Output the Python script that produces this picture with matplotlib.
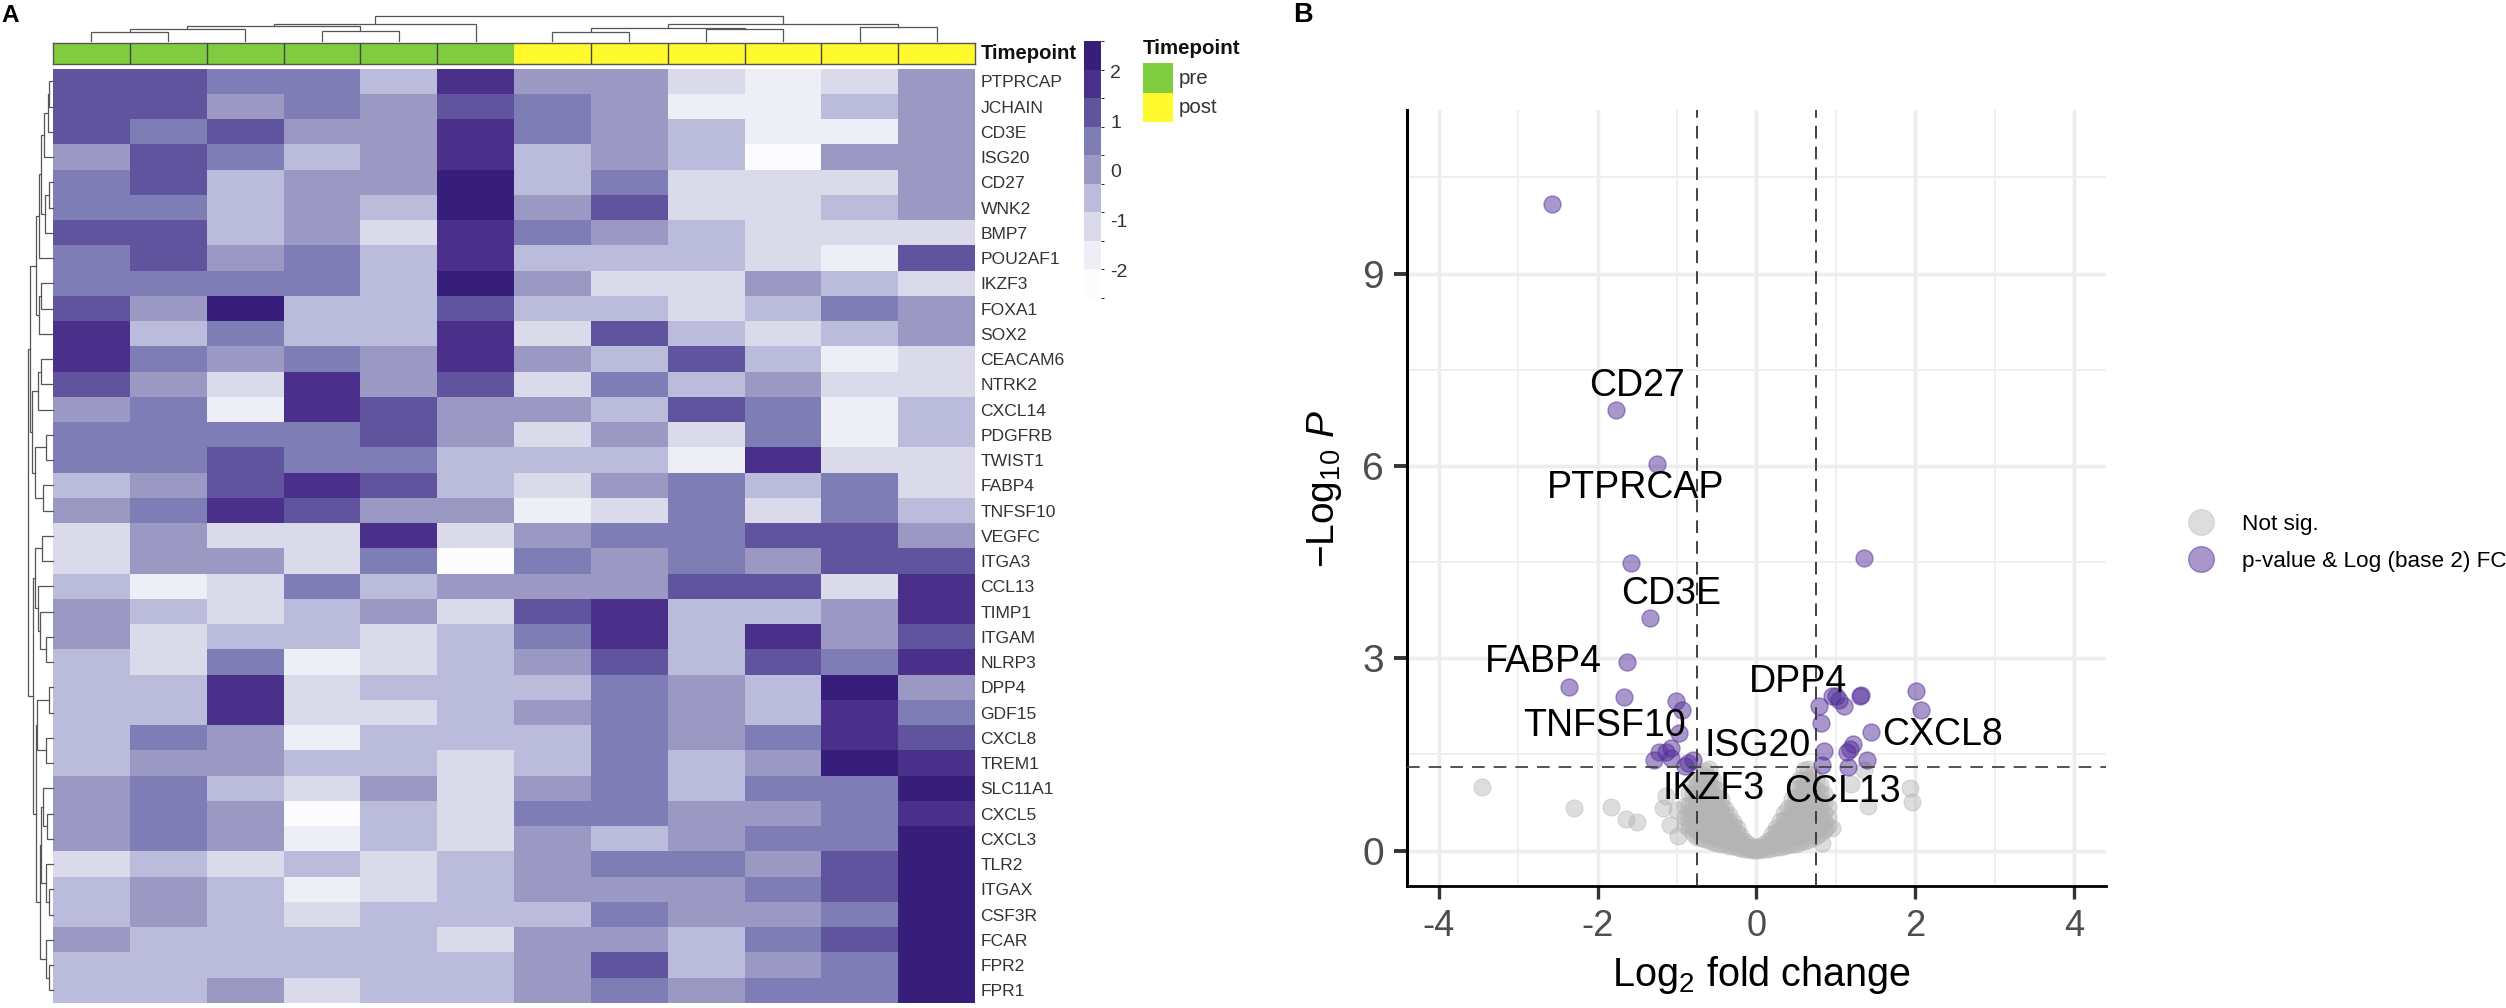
import numpy as np
import matplotlib
matplotlib.use("Agg")
import matplotlib.pyplot as plt
from matplotlib.colors import ListedColormap, BoundaryNorm
from matplotlib.colorbar import ColorbarBase
from matplotlib.lines import Line2D
from matplotlib.patches import Rectangle

plt.rcParams['font.family'] = ['Liberation Sans', 'DejaVu Sans']
plt.rcParams['mathtext.fontset'] = 'custom'
plt.rcParams['mathtext.rm'] = 'Liberation Sans'
plt.rcParams['mathtext.it'] = 'Liberation Sans:italic'
plt.rcParams['axes.unicode_minus'] = False

W, H = 2506, 1008

genes = ['PTPRCAP', 'JCHAIN', 'CD3E', 'ISG20', 'CD27', 'WNK2', 'BMP7', 'POU2AF1', 'IKZF3', 'FOXA1',
         'SOX2', 'CEACAM6', 'NTRK2', 'CXCL14', 'PDGFRB', 'TWIST1', 'FABP4', 'TNFSF10', 'VEGFC', 'ITGA3',
         'CCL13', 'TIMP1', 'ITGAM', 'NLRP3', 'DPP4', 'GDF15', 'CXCL8', 'TREM1', 'SLC11A1', 'CXCL5',
         'CXCL3', 'TLR2', 'ITGAX', 'CSF3R', 'FCAR', 'FPR2', 'FPR1']
timepoint = [0] * 6 + [1] * 6

# colour bin of each cell (0 lightest .. 8 darkest)
heat_bins = [
    [6, 6, 5, 5, 3, 7, 4, 4, 2, 1, 2, 4],
    [6, 6, 4, 5, 4, 6, 5, 4, 1, 1, 3, 4],
    [6, 5, 6, 4, 4, 7, 5, 4, 3, 1, 1, 4],
    [4, 6, 5, 3, 4, 7, 3, 4, 3, 0, 4, 4],
    [5, 6, 3, 4, 4, 8, 3, 5, 2, 2, 2, 4],
    [5, 5, 3, 4, 3, 8, 4, 6, 2, 2, 3, 4],
    [6, 6, 3, 4, 2, 7, 5, 4, 3, 2, 2, 2],
    [5, 6, 4, 5, 3, 7, 3, 3, 3, 2, 1, 6],
    [5, 5, 5, 5, 3, 8, 4, 2, 2, 4, 3, 2],
    [6, 4, 8, 3, 3, 6, 3, 3, 2, 3, 5, 4],
    [7, 3, 5, 3, 3, 7, 2, 6, 3, 2, 3, 4],
    [7, 5, 4, 5, 4, 7, 4, 3, 6, 3, 1, 2],
    [6, 4, 2, 7, 4, 6, 2, 5, 3, 4, 2, 2],
    [4, 5, 1, 7, 6, 4, 4, 3, 6, 5, 1, 3],
    [5, 5, 5, 5, 6, 4, 2, 4, 2, 5, 1, 3],
    [5, 5, 6, 5, 5, 3, 3, 3, 1, 7, 2, 2],
    [3, 4, 6, 7, 6, 3, 2, 4, 5, 3, 5, 2],
    [4, 5, 7, 6, 4, 4, 1, 2, 5, 2, 5, 3],
    [2, 4, 2, 2, 7, 2, 4, 5, 5, 6, 6, 4],
    [2, 4, 4, 2, 5, 0, 5, 4, 5, 4, 6, 6],
    [3, 1, 2, 5, 3, 4, 4, 4, 6, 6, 2, 7],
    [4, 3, 2, 3, 4, 2, 6, 7, 3, 3, 4, 7],
    [4, 2, 3, 3, 2, 3, 5, 7, 3, 7, 4, 6],
    [3, 2, 5, 1, 2, 3, 4, 6, 3, 6, 5, 7],
    [3, 3, 7, 2, 3, 3, 3, 5, 4, 3, 8, 4],
    [3, 3, 7, 2, 2, 3, 4, 5, 4, 3, 7, 5],
    [3, 5, 4, 1, 3, 3, 3, 5, 4, 5, 7, 6],
    [3, 4, 4, 3, 3, 2, 3, 5, 3, 4, 8, 7],
    [4, 5, 3, 2, 4, 2, 4, 5, 3, 5, 5, 8],
    [4, 5, 4, 0, 3, 2, 5, 5, 4, 4, 5, 7],
    [4, 5, 4, 1, 3, 2, 4, 3, 4, 5, 5, 8],
    [2, 3, 2, 3, 2, 3, 4, 5, 5, 4, 6, 8],
    [3, 4, 3, 1, 2, 3, 4, 4, 4, 5, 6, 8],
    [3, 4, 3, 2, 3, 3, 3, 5, 4, 4, 5, 8],
    [4, 3, 3, 3, 3, 2, 4, 4, 3, 5, 6, 8],
    [3, 3, 3, 3, 3, 3, 4, 6, 3, 4, 5, 8],
    [3, 3, 4, 2, 3, 3, 4, 5, 4, 5, 5, 8],
]
bin_colors = ['#FCFBFD', '#EEEEF6', '#DADAEB', '#BBBBDB', '#9B99C3', '#7F7DB6', '#61549F', '#4A2F8B', '#371E7A']
bin_edges = np.linspace(-2.55, 2.61, 10)
cbar_ticks = [-2, -1, 0, 1, 2]

# dendrograms as nested (height, left, right), ints are leaves
col_tree = (25.3,
            (16.7, (15, (12, (8.7, 0, 1), 2), (10.4, 3, 4)), 5),
            (17, (12.7, (9.3, 6, 7), (11.7, 8, 9)), (13.7, 10, 11)))
g1 = (17, (14, (12, (9.5, (5, (4, 0, 1), 2), 3), (8, (4, 4, 5), 6)), 7), (14, (12, 8, 9), 10))
g2a = (21, (14.7, (12, 11, 12), 13), (18, (7, 14, 15), (9.6, 16, 17)))
g2b = (18, (11, 18, 19), (15, 20, (13, 21, (7, 22, 23))))
g3 = (17, (16, (4.5, 24, 25), (7, 26, 27)),
      (13.5, (12, (9.6, 28, (6, 29, 30)), (7, 31, (4.5, 32, 33))), (7, 34, (4.5, 35, 36))))
row_tree = (25, (23.5, g1, g2a), (20, g2b, g3))

# volcano points
sig_x = [-2.58, -1.77, -1.25, -1.58, 1.36, -1.34, -1.63, -2.36, -1.67, -1.01, -0.94, 2.01, 2.07, 1.31, 1.32,
         1.00, 0.95, 1.04, 1.10, 0.79, 0.82, 1.44, -0.97, 1.22, 1.14, 1.18, 0.855, 1.39, 1.15, 0.83,
         -1.07, -1.14, -1.23, -1.07, -1.29, -0.80, -0.86, -0.90]
sig_y = [10.09, 6.87, 6.03, 4.49, 4.57, 3.63, 2.94, 2.55, 2.40, 2.33, 2.20, 2.49, 2.20, 2.41, 2.42,
         2.41, 2.41, 2.35, 2.26, 2.26, 1.99, 1.855, 1.83, 1.66, 1.54, 1.59, 1.55, 1.42, 1.31, 1.34,
         1.60, 1.54, 1.54, 1.44, 1.41, 1.41, 1.37, 1.32]
ns_x = [-3.46, -2.30, -1.83, -1.64, -1.50, -1.17, -1.14, -1.00, 1.94, 1.96, 1.41, 1.19, 1.35, 0.95, 0.87, 0.83, -0.99, -1.09]
ns_y = [1.00, 0.66, 0.68, 0.49, 0.44, 0.66, 0.85, 0.63, 0.98, 0.76, 0.69, 1.04, 1.26, 0.35, 0.35, 0.12, 0.23, 0.40]
# the dense grey V, one column of genes per entry
cloud_x = [-0.90, -0.85, -0.80, -0.75, -0.70, -0.65, -0.60, -0.55, -0.50, -0.45, -0.40, -0.35, -0.30, -0.25, -0.20, -0.15, -0.10, -0.05,
           0.00, 0.05, 0.10, 0.15, 0.20, 0.25, 0.30, 0.35, 0.40, 0.45, 0.50, 0.55, 0.60, 0.65, 0.70, 0.75, 0.80, 0.85, 0.90]
cloud_y = [[0.40, 0.52, 0.70],
           [0.35, 0.45, 0.58, 0.72, 0.90],
           [0.28, 0.38, 0.50, 0.62, 0.75, 0.88, 1.00],
           [0.22, 0.32, 0.44, 0.55, 0.66, 0.78, 0.90, 1.02, 1.10],
           [0.20, 0.30, 0.40, 0.52, 0.63, 0.75, 0.86, 0.97, 1.08, 1.20],
           [0.18, 0.28, 0.38, 0.49, 0.60, 0.72, 0.83, 0.94, 1.05, 1.16, 1.25],
           [0.16, 0.25, 0.36, 0.47, 0.58, 0.68, 0.80, 0.91, 1.03, 1.14, 1.28],
           [0.14, 0.24, 0.33, 0.44, 0.55, 0.65, 0.76, 0.87, 0.98, 1.10],
           [0.12, 0.22, 0.31, 0.42, 0.52, 0.62, 0.73, 0.84, 0.95],
           [0.10, 0.20, 0.29, 0.39, 0.49, 0.59, 0.70, 0.80],
           [0.10, 0.18, 0.27, 0.36, 0.46, 0.55, 0.65],
           [0.08, 0.16, 0.25, 0.33, 0.43, 0.55],
           [0.07, 0.14, 0.22, 0.30, 0.38, 0.45],
           [0.05, 0.12, 0.19, 0.27, 0.35],
           [0.04, 0.10, 0.16, 0.25],
           [0.03, 0.08, 0.15],
           [0.02, 0.05, 0.10],
           [0.01, 0.03, 0.06],
           [0.01, 0.03, 0.05],
           [0.01, 0.04, 0.06],
           [0.02, 0.06, 0.10],
           [0.03, 0.09, 0.15],
           [0.04, 0.11, 0.18, 0.26],
           [0.05, 0.13, 0.21, 0.29, 0.36],
           [0.06, 0.15, 0.24, 0.33, 0.46],
           [0.07, 0.16, 0.27, 0.38, 0.48, 0.58],
           [0.09, 0.19, 0.29, 0.40, 0.52, 0.66],
           [0.10, 0.21, 0.32, 0.44, 0.56, 0.68, 0.80],
           [0.11, 0.23, 0.35, 0.47, 0.59, 0.72, 0.84, 0.96],
           [0.13, 0.25, 0.37, 0.50, 0.63, 0.76, 0.88, 1.00, 1.12],
           [0.15, 0.26, 0.38, 0.50, 0.62, 0.74, 0.86, 0.98, 1.10, 1.26],
           [0.17, 0.28, 0.40, 0.52, 0.64, 0.76, 0.88, 1.00, 1.12, 1.27],
           [0.20, 0.31, 0.43, 0.55, 0.67, 0.79, 0.91, 1.03, 1.18],
           [0.23, 0.34, 0.46, 0.58, 0.70, 0.82, 0.94, 1.08],
           [0.27, 0.39, 0.51, 0.64, 0.77, 0.90, 1.02],
           [0.33, 0.46, 0.60, 0.74, 0.88],
           [0.38, 0.52, 0.68]]
gene_labels = ['CD27', 'PTPRCAP', 'CD3E', 'FABP4', 'DPP4', 'TNFSF10', 'ISG20', 'CXCL8', 'IKZF3', 'CCL13']
label_x = [-1.497, -1.515, -1.075, -2.68, 0.52, -1.907, 0.02, 2.34, -0.534, 1.09]
label_y = [7.24, 5.65, 4.00, 2.94, 2.63, 1.95, 1.64, 1.81, 0.96, 0.92]
x_major = [-4, -2, 0, 2, 4]
x_minor = [-3, -1, 1, 3]
y_major = [0, 3, 6, 9]
y_minor = [1.5, 4.5, 7.5, 10.5]
cut_fc = 0.75
cut_p = 1.31


def px_axes(left, top, right, bottom):
    return fig.add_axes([left / W, 1 - bottom / H, (right - left) / W, (bottom - top) / H])


def draw_tree(ax, node, horizontal=False):
    # returns leaf-axis position and height of the node
    if not isinstance(node, tuple):
        return node + 0.5, 0
    h, a, b = node
    pa, ha = draw_tree(ax, a, horizontal)
    pb, hb = draw_tree(ax, b, horizontal)
    xs, ys = [pa, pa, pb, pb], [ha, h, h, hb]
    if horizontal:
        xs, ys = ys, xs
    ax.plot(xs, ys, color='#555555', lw=0.9, solid_joinstyle='miter', clip_on=False)
    return (pa + pb) / 2, h


fig = plt.figure(figsize=(W / 100, H / 100), dpi=100)

n_rows, n_cols = len(genes), len(heat_bins[0])
mids = (bin_edges[:-1] + bin_edges[1:]) / 2
heat_z = mids[np.array(heat_bins)]
cmap = ListedColormap(bin_colors)
norm = BoundaryNorm(bin_edges, cmap.N)

# heatmap
ax = px_axes(53, 68.7, 975, 1003)
ax.pcolormesh(np.arange(n_cols + 1), np.arange(n_rows + 1), heat_z, cmap=cmap, norm=norm)
ax.set_ylim(n_rows, 0)
ax.set_xticks([])
ax.yaxis.tick_right()
ax.set_yticks(np.arange(n_rows) + 0.5)
ax.set_yticklabels(genes, fontsize=12.6, color='#333333')
ax.tick_params(axis='y', length=0, pad=4)
for s in ax.spines.values():
    s.set_visible(False)

# annotation strip
ax = px_axes(53, 42.5, 975, 63.5)
ax.pcolormesh(np.arange(n_cols + 1), [0, 1], [timepoint], cmap=ListedColormap(['#7FCC3F', '#FFFA2E']), vmin=0, vmax=1)
for i in range(1, n_cols):
    if i != 6:
        ax.axvline(i, color='#444444', lw=1)
ax.set_xticks([])
ax.set_yticks([])
for s in ax.spines.values():
    s.set_color('#555555')
    s.set_linewidth(1)
fig.text(981 / W, 1 - 53.5 / H, 'Timepoint', fontsize=14.6, fontweight='bold', color='#111111', va='center')

# dendrograms
ax = px_axes(53, 10, 975, 41)
draw_tree(ax, col_tree)
ax.set_xlim(0, n_cols)
ax.set_ylim(0, 31)
ax.axis('off')

ax = px_axes(27.5, 68.7, 53, 1003)
draw_tree(ax, row_tree, horizontal=True)
ax.set_xlim(25.5, 0)
ax.set_ylim(n_rows, 0)
ax.axis('off')

# colour bar
cax = px_axes(1084, 41, 1100.7, 298)
cb = ColorbarBase(cax, cmap=cmap, norm=norm, boundaries=bin_edges, spacing='proportional', ticks=cbar_ticks)
cb.outline.set_visible(False)
cax.tick_params(length=0, pad=7, labelsize=14, labelcolor='#333333')

# annotation legend
fig.text(1143 / W, 1 - 48 / H, 'Timepoint', fontsize=14.8, fontweight='bold', color='#111111', va='center')
for k, (name, col) in enumerate(zip(['pre', 'post'], ['#7FCC3F', '#FFFA2E'])):
    fig.patches.append(Rectangle((1143 / W, 1 - (92.5 + 29.7 * k) / H), 30 / W, 29.7 / H, transform=fig.transFigure,
                                 facecolor=col, edgecolor='none', figure=fig))
    fig.text(1179 / W, 1 - (78 + 29.7 * k) / H, name, fontsize=14.8, color='#333333', va='center')

# volcano
ax = px_axes(1406.7, 110, 2106, 885.7)
ax.set_xlim(-4.404, 4.404)
ax.set_ylim(-0.546, 11.55)
ax.set_axisbelow(True)
ax.set_xticks(x_major)
ax.set_yticks(y_major)
ax.set_xticks(x_minor, minor=True)
ax.set_yticks(y_minor, minor=True)
ax.grid(which='major', color='#EDEDED', lw=2.5)
ax.grid(which='minor', color='#EFEFEF', lw=1.4)
ax.tick_params(which='minor', length=0)
ax.tick_params(axis='x', which='major', length=9.5, width=2.4, color='#333333', labelsize=26, labelcolor='#4D4D4D', pad=7)
ax.tick_params(axis='y', which='major', length=9.5, width=2.8, color='#333333', labelsize=28, labelcolor='#4D4D4D', pad=7)
ax.spines['top'].set_visible(False)
ax.spines['right'].set_visible(False)
ax.spines['left'].set_linewidth(2.2)
ax.spines['bottom'].set_linewidth(2.0)

dense_x = [cx for cx, ys in zip(cloud_x, cloud_y) for _ in ys]
dense_y = [v for ys in cloud_y for v in ys]
ax.scatter(ns_x + dense_x, ns_y + dense_y, s=150, color='#B4B4B4', alpha=0.45, linewidths=0.8, zorder=2)
ax.scatter(sig_x, sig_y, s=150, color='#54309A', alpha=0.5, linewidths=1.0, zorder=3)
for v in [-cut_fc, cut_fc]:
    ax.axvline(v, color='#333333', lw=1.3, dashes=(7, 4.5), zorder=4)
ax.axhline(cut_p, color='#444444', lw=1.3, dashes=(7, 5), zorder=4)
for name, lx, ly in zip(gene_labels, label_x, label_y):
    ax.text(lx, ly, name, fontsize=27, color='black', ha='center', va='center', zorder=5)

fig.text(1325 / W, 1 - 489 / H, r'$-\mathrm{Log}_{10}\ \mathit{P}$', fontsize=28, rotation=90, ha='center', va='center')
fig.text(1762 / W, 1 - 975 / H, r'$\mathrm{Log}_{2}\ \mathrm{fold\ change}$', fontsize=28.5, ha='center', va='center')

handles = [Line2D([], [], ls='', marker='o', ms=18.5, color='#B4B4B4', alpha=0.45, mew=0.8),
           Line2D([], [], ls='', marker='o', ms=18.5, color='#54309A', alpha=0.5, mew=1)]
fig.legend(handles, ['Not sig.', 'p-value & Log (base 2) FC'], loc='center left', bbox_to_anchor=(2178 / W, 1 - 543 / H),
           frameon=False, fontsize=16.2, labelspacing=0.72, handletextpad=0.85, borderpad=0, borderaxespad=0)

fig.text(1 / W, 1 - 16 / H, 'A', fontsize=17.5, fontweight='bold', va='center')
fig.text(1293 / W, 1 - 15 / H, 'B', fontsize=19.5, fontweight='bold', va='center')

fig.savefig('out.png', dpi=100)
